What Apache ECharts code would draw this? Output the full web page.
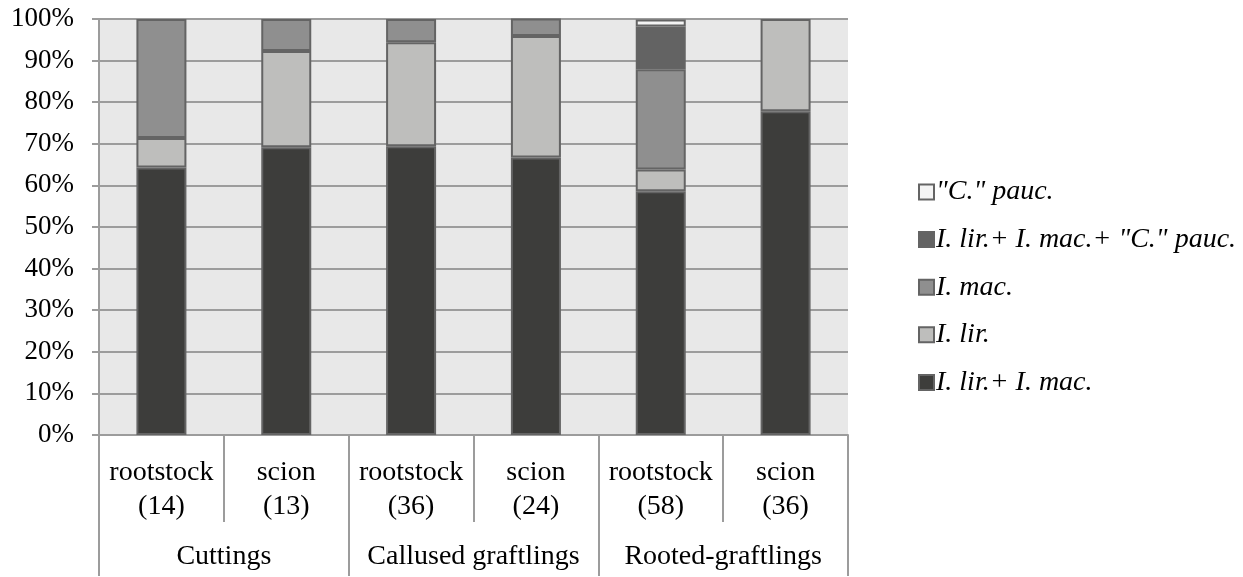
<!DOCTYPE html>
<html>
<head>
<meta charset="utf-8">
<script src="https://cdn.jsdelivr.net/npm/echarts@6/dist/echarts.min.js"></script>
<style>
  html, body { margin: 0; padding: 0; background: #fff; }
  #chart { width: 1243px; height: 577px; }
</style>
</head>
<body>
<div id="chart"></div>
<script>
// sub-categories (first level of x axis) and groups (second level)
var categories = ['rootstock\n(14)', 'scion\n(13)', 'rootstock\n(36)', 'scion\n(24)', 'rootstock\n(58)', 'scion\n(36)'];
var groups = ['Cuttings', 'Callused graftlings', 'Rooted-graftlings'];

// percentages per category, bottom to top
var lirMac = [64.3, 69.2, 69.4, 66.7, 58.6, 77.8];
var lir = [7.1, 23.1, 25.0, 29.2, 5.2, 22.2];
var mac = [28.6, 7.7, 5.6, 4.2, 24.1, 0];
var lirMacPauc = [0, 0, 0, 0, 10.3, 0];
var pauc = [0, 0, 0, 0, 1.7, 0];

var names = ['I. lir.+ I. mac.', 'I. lir.', 'I. mac.', 'I. lir.+ I. mac.+ "C." pauc.', '"C." pauc.'];
var colors = ['#3d3d3b', '#bebebc', '#8f8f8f', '#636363', '#f4f4f4'];
var values = [lirMac, lir, mac, lirMacPauc, pauc];

var font = 'Liberation Serif';
var chart = echarts.init(document.getElementById('chart'));

var series = values.map(function (v, i) {
  return {
    name: names[i],
    type: 'bar',
    stack: 'all',
    barWidth: 50,
    data: v.map(function (x) { return x === 0 ? '-' : x; }),
    itemStyle: {
      color: colors[i],
      borderColor: '#646464',
      borderWidth: 2
    }
  };
});

chart.setOption({
  animation: false,
  grid: {
    left: 99,
    right: 395,
    top: 19,
    bottom: 142,
    show: true,
    backgroundColor: '#e8e8e8',
    borderWidth: 0
  },
  legend: {
    orient: 'vertical',
    left: 913,
    top: 172,
    itemWidth: 15,
    itemHeight: 15,
    itemGap: 17.6,
    icon: 'rect',
    data: names.slice().reverse(),
    textStyle: {
      fontFamily: font,
      fontStyle: 'italic',
      fontSize: 28,
      lineHeight: 30,
      color: '#000',
      padding: [0, 0, 0, -3]
    }
  },
  xAxis: [
    {
      type: 'category',
      data: categories,
      position: 'bottom',
      axisLine: { show: true, lineStyle: { color: '#9c9c9c', width: 2 } },
      axisTick: { show: true, interval: 0, length: 87, lineStyle: { color: '#9c9c9c', width: 2 } },
      axisLabel: {
        interval: 0,
        margin: 21,
        fontFamily: font,
        fontSize: 28,
        lineHeight: 34,
        color: '#000'
      }
    },
    {
      type: 'category',
      data: groups,
      position: 'bottom',
      axisLine: { show: false },
      axisTick: { show: true, interval: 0, length: 141, lineStyle: { color: '#9c9c9c', width: 2 } },
      axisLabel: {
        interval: 0,
        margin: 105,
        fontFamily: font,
        fontSize: 28,
        lineHeight: 34,
        color: '#000'
      }
    }
  ],
  yAxis: {
    type: 'value',
    min: 0,
    max: 100,
    interval: 10,
    axisLine: { show: true, lineStyle: { color: '#9c9c9c', width: 2 } },
    axisTick: { show: true, length: 7, lineStyle: { color: '#9c9c9c', width: 2 } },
    splitLine: { show: true, lineStyle: { color: '#9c9c9c', width: 2 } },
    axisLabel: {
      margin: 25,
      fontFamily: font,
      fontSize: 27,
      color: '#000',
      formatter: '{value}%'
    }
  },
  series: series
});
</script>
</body>
</html>
